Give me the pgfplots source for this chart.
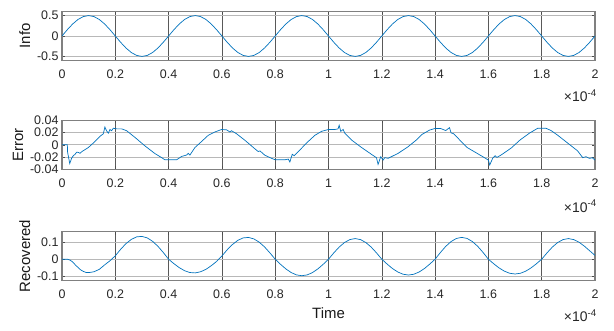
\documentclass[border=0pt]{standalone}
\usepackage{fontspec}
\setmainfont{Liberation Sans}
\usepackage{pgfplots}
\pgfplotsset{compat=1.18}
\definecolor{mblue}{rgb}{0,0.447,0.741}
\pgfplotsset{
  mline/.style={color=mblue, line width=0.7bp, mark=none},
  mstyle/.style={
    scale only axis, width=533bp, height=49bp,
    xmin=0, xmax=2,
    xtick={0,0.2,0.4,0.6,0.8,1,1.2,1.4,1.6,1.8,2},
    xticklabels={0,0.2,0.4,0.6,0.8,1,1.2,1.4,1.6,1.8,2},
    scaled ticks=false,
    tick align=inside,
    major tick length=3bp,
    tick style={black!70, line width=0.5bp},
    xmajorgrids, ymajorgrids,
    major x grid style={black!65, line width=0.6bp},
    major y grid style={black!28, line width=0.6bp},
    axis line style={black!50, line width=1.4bp},
    ticklabel style={font=\fontsize{12.5}{12.5}\selectfont, text=black!85},
    xticklabel style={yshift=-6bp},
    label style={font=\fontsize{15}{15}\selectfont, text=black!90},
  }
}
\begin{document}
\begin{tikzpicture}
\useasboundingbox (0,0) rectangle (614bp,331bp);
% ---------------- Info ----------------
\begin{axis}[mstyle, name=ax1, at={(62bp,270.5bp)}, anchor=south west,
  ymin=-0.6, ymax=0.6, ytick={-0.5,0,0.5}, yticklabels={-0.5,0,0.5},
  ylabel={Info}]
\addplot[mline] coordinates {
(0.00,0) (0.02,0.1545) (0.04,0.2939) (0.06,0.4045) (0.08,0.4755) (0.10,0.5) (0.12,0.4755) (0.14,0.4045) (0.16,0.2939) (0.18,0.1545)
(0.20,0) (0.22,-0.1545) (0.24,-0.2939) (0.26,-0.4045) (0.28,-0.4755) (0.30,-0.5) (0.32,-0.4755) (0.34,-0.4045) (0.36,-0.2939) (0.38,-0.1545)
(0.40,0) (0.42,0.1545) (0.44,0.2939) (0.46,0.4045) (0.48,0.4755) (0.50,0.5) (0.52,0.4755) (0.54,0.4045) (0.56,0.2939) (0.58,0.1545)
(0.60,0) (0.62,-0.1545) (0.64,-0.2939) (0.66,-0.4045) (0.68,-0.4755) (0.70,-0.5) (0.72,-0.4755) (0.74,-0.4045) (0.76,-0.2939) (0.78,-0.1545)
(0.80,0) (0.82,0.1545) (0.84,0.2939) (0.86,0.4045) (0.88,0.4755) (0.90,0.5) (0.92,0.4755) (0.94,0.4045) (0.96,0.2939) (0.98,0.1545)
(1.00,0) (1.02,-0.1545) (1.04,-0.2939) (1.06,-0.4045) (1.08,-0.4755) (1.10,-0.5) (1.12,-0.4755) (1.14,-0.4045) (1.16,-0.2939) (1.18,-0.1545)
(1.20,0) (1.22,0.1545) (1.24,0.2939) (1.26,0.4045) (1.28,0.4755) (1.30,0.5) (1.32,0.4755) (1.34,0.4045) (1.36,0.2939) (1.38,0.1545)
(1.40,0) (1.42,-0.1545) (1.44,-0.2939) (1.46,-0.4045) (1.48,-0.4755) (1.50,-0.5) (1.52,-0.4755) (1.54,-0.4045) (1.56,-0.2939) (1.58,-0.1545)
(1.60,0) (1.62,0.1545) (1.64,0.2939) (1.66,0.4045) (1.68,0.4755) (1.70,0.5) (1.72,0.4755) (1.74,0.4045) (1.76,0.2939) (1.78,0.1545)
(1.80,0) (1.82,-0.1545) (1.84,-0.2939) (1.86,-0.4045) (1.88,-0.4755) (1.90,-0.5) (1.92,-0.4755) (1.94,-0.4045) (1.96,-0.2939) (1.98,-0.1545)
(2.00,0)
};
\end{axis}
% ---------------- Error ----------------
\begin{axis}[mstyle, name=ax2, at={(62bp,161.7bp)}, anchor=south west,
  ymin=-0.04, ymax=0.04, ytick={-0.04,-0.02,0,0.02,0.04},
  yticklabels={-0.04,-0.02,0,0.02,0.04},
  ylabel={Error}]
\addplot[mline] coordinates {
(0,0) (0.02,0) (0.021,-0.012) (0.029,-0.0306) (0.036,-0.022) (0.042,-0.018) (0.049,-0.0155) (0.055,-0.012) (0.062,-0.0125) (0.0675,-0.0139)
(0.075,-0.011) (0.099,-0.0044) (0.124,0.0055) (0.1425,0.0139) (0.155,0.018) (0.161,0.029) (0.167,0.023) (0.174,0.019) (0.18,0.025) (0.186,0.023)
(0.1925,0.027) (0.205,0.026) (0.224,0.026) (0.2425,0.023) (0.274,0.012) (0.311,-0.0017) (0.349,-0.0144) (0.374,-0.021) (0.386,-0.0245) (0.43,-0.0245)
(0.449,-0.019) (0.4675,-0.0167) (0.474,-0.014) (0.48,-0.0167) (0.499,-0.0044) (0.524,0.0055) (0.549,0.0156) (0.574,0.021) (0.599,0.025) (0.6175,0.0244)
(0.63,0.021) (0.636,0.023) (0.655,0.018) (0.686,0.0075) (0.718,-0.0044) (0.736,-0.011) (0.743,-0.010) (0.761,-0.017) (0.786,-0.022) (0.8,-0.0245)
(0.836,-0.0245) (0.849,-0.0233) (0.855,-0.028) (0.864,-0.0155) (0.871,-0.0178) (0.88,-0.0139) (0.899,-0.0055) (0.924,0.0055) (0.949,0.0155) (0.974,0.022)
(1.0,0.025) (1.024,0.025) (1.036,0.026) (1.04,0.032) (1.046,0.022) (1.055,0.025) (1.061,0.019) (1.086,0.008) (1.124,-0.0044) (1.161,-0.0155)
(1.18,-0.021) (1.186,-0.032) (1.196,-0.0194) (1.205,-0.025) (1.211,-0.021) (1.224,-0.022) (1.261,-0.014) (1.299,-0.003) (1.33,0.008) (1.35,0.0167)
(1.379,0.024) (1.4,0.0267) (1.42,0.0267) (1.44,0.0233) (1.454,0.028) (1.46,0.0194) (1.47,0.018) (1.4975,0.0055) (1.52,-0.0044) (1.55,-0.012)
(1.585,-0.021) (1.6,-0.025) (1.605,-0.033) (1.616,-0.022) (1.625,-0.0178) (1.632,-0.0206) (1.6475,-0.0167) (1.685,-0.0055) (1.72,0.0083) (1.754,0.019)
(1.785,0.027) (1.816,0.027) (1.835,0.0233) (1.86,0.0156) (1.8975,0.0028) (1.935,-0.01) (1.954,-0.021) (1.966,-0.0194) (1.979,-0.0222) (1.99,-0.0211)
(2.0,-0.025)
};
\end{axis}
% ---------------- Recovered ----------------
\begin{axis}[mstyle, name=ax3, at={(62bp,50.3bp)}, anchor=south west,
  ymin=-0.125, ymax=0.16, ytick={-0.1,0,0.1}, yticklabels={-0.1,0,0.1},
  ylabel={Recovered}, xlabel={Time}, xlabel style={yshift=-2bp}]
\addplot[mline] coordinates {
(0,0) (0.02,0) (0.03,-0.005) (0.04,-0.016) (0.05,-0.033) (0.06,-0.048) (0.07,-0.062) (0.08,-0.071) (0.09,-0.077) (0.10,-0.078)
(0.12,-0.073) (0.14,-0.059) (0.16,-0.033) (0.18,-0.009) (0.20,0.0198) (0.22,0.0577) (0.24,0.0905) (0.26,0.115) (0.28,0.130) (0.30,0.1326)
(0.32,0.124) (0.34,0.104) (0.36,0.075) (0.38,0.039) (0.40,0) (0.42,-0.026) (0.44,-0.049) (0.46,-0.067) (0.48,-0.0775) (0.50,-0.0797)
(0.52,-0.073) (0.54,-0.059) (0.56,-0.038) (0.58,-0.013) (0.60,0.019) (0.62,0.055) (0.64,0.086) (0.66,0.110) (0.68,0.124) (0.70,0.1266)
(0.72,0.118) (0.74,0.099) (0.76,0.0715) (0.78,0.037) (0.80,0) (0.82,-0.0297) (0.84,-0.0564) (0.86,-0.0777) (0.88,-0.0913) (0.90,-0.096)
(0.92,-0.0913) (0.94,-0.0777) (0.96,-0.0564) (0.98,-0.0297) (1.00,0) (1.02,0.0371) (1.04,0.0706) (1.06,0.0971) (1.08,0.1141) (1.10,0.12)
(1.12,0.1141) (1.14,0.0971) (1.16,0.0706) (1.18,0.0371) (1.20,0) (1.22,-0.0284) (1.24,-0.0541) (1.26,-0.0744) (1.28,-0.0875) (1.30,-0.092)
(1.32,-0.0875) (1.34,-0.0744) (1.36,-0.0541) (1.38,-0.0284) (1.40,0) (1.42,0.0392) (1.44,0.0747) (1.46,0.1027) (1.48,0.1208) (1.50,0.127)
(1.52,0.1208) (1.54,0.1027) (1.56,0.0747) (1.58,0.0392) (1.60,0) (1.62,-0.0266) (1.64,-0.0506) (1.66,-0.0696) (1.68,-0.0818) (1.70,-0.086)
(1.72,-0.0818) (1.74,-0.0696) (1.76,-0.0506) (1.78,-0.0266) (1.80,0) (1.82,0.0371) (1.84,0.0706) (1.86,0.0971) (1.88,0.1141) (1.90,0.12)
(1.92,0.1141) (1.94,0.0990) (1.96,0.076) (1.98,0.049) (2.00,0.022)
};
\end{axis}
\foreach \a/\s in {ax1/-35bp, ax2/-37bp, ax3/-35bp}{
  \node[anchor=east, font=\fontsize{14}{14}\selectfont, text=black!85, inner sep=0pt]
    at ([xshift=2bp, yshift=\s]\a.south east) {×10\textsuperscript{-4}};
}
\end{tikzpicture}
\end{document}
